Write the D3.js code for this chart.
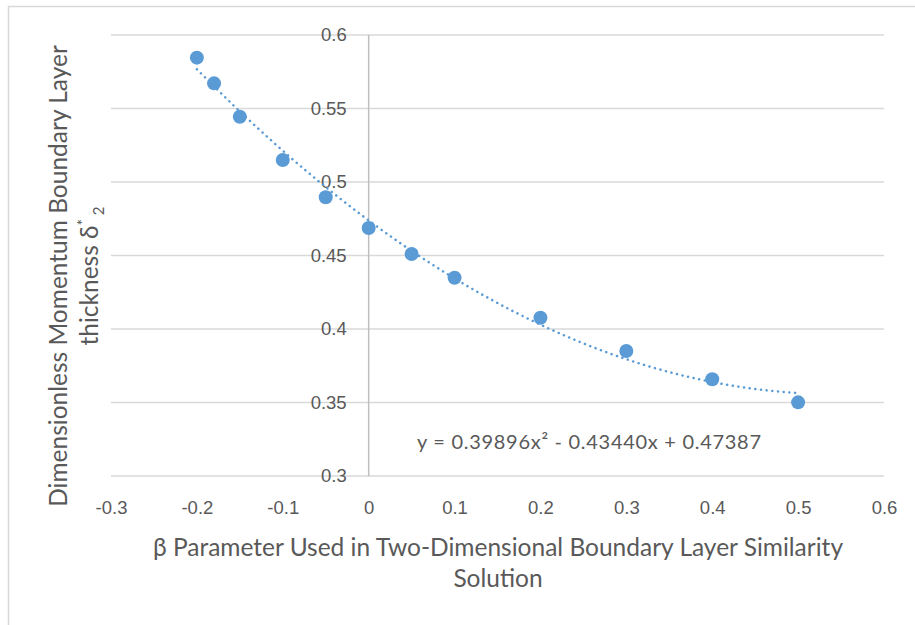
<!DOCTYPE html>
<html>
<head>
<meta charset="utf-8">
<script src="https://cdn.jsdelivr.net/npm/d3@7"></script>
<style>
    body { margin: 0; background: #fff; }
    svg { font-family: "Lato", "Open Sans", sans-serif; }
</style>
</head>
<body>
<div id="chart"></div>
<script>
// beta values and momentum thickness
const betaValues = [-0.2, -0.18, -0.15, -0.1, -0.05, 0, 0.05, 0.1, 0.2, 0.3, 0.4, 0.5];
const thicknessValues = [0.5846, 0.5671, 0.5444, 0.515, 0.4896, 0.4687, 0.451, 0.4349, 0.4077, 0.385, 0.3658, 0.3501];

const xTicks = [-0.3, -0.2, -0.1, 0, 0.1, 0.2, 0.3, 0.4, 0.5, 0.6];
const yTicks = [0.3, 0.35, 0.4, 0.45, 0.5, 0.55, 0.6];

// polynomial trendline shown on the chart (a2, a1, a0)
const trendCoefs = [0.39896, -0.43440, 0.47387];
const trendLabel = "y = 0.39896x² - 0.43440x + 0.47387";

const width = 915;
const height = 625;
const margin = { top: 35, right: 31, bottom: 149, left: 111 };

const svg = d3.select("#chart")
    .append("svg")
    .attr("width", width)
    .attr("height", height);

// chart frame
svg.append("rect")
    .attr("x", 8.5)
    .attr("y", 6.5)
    .attr("width", width + 20)
    .attr("height", height + 20)
    .attr("fill", "none")
    .attr("stroke", "#d9d9d9")
    .attr("stroke-width", 1.5);

const x = d3.scaleLinear()
    .domain([-0.3, 0.6])
    .range([margin.left, width - margin.right]);

const y = d3.scaleLinear()
    .domain([0.3, 0.6])
    .range([height - margin.bottom, margin.top]);

// plain hyphen for negatives, like the original
const fmt = d => String(+d.toFixed(2));

// horizontal gridlines
svg.append("g")
    .selectAll("line")
    .data(yTicks)
    .enter().append("line")
    .attr("x1", x(-0.3))
    .attr("x2", x(0.6))
    .attr("y1", d => y(d))
    .attr("y2", d => y(d))
    .attr("stroke", "#d9d9d9")
    .attr("stroke-width", 1.5);

// vertical axis line at x = 0
svg.append("line")
    .attr("x1", x(0))
    .attr("x2", x(0))
    .attr("y1", y(0.6))
    .attr("y2", y(0.3))
    .attr("stroke", "#bfbfbf")
    .attr("stroke-width", 1.5);

const yAxis = svg.append("g")
    .attr("transform", `translate(${x(0)},0)`)
    .call(d3.axisLeft(y).tickValues(yTicks).tickSize(0).tickPadding(22).tickFormat(fmt));
yAxis.select(".domain").remove();
yAxis.selectAll("text")
    .attr("fill", "#595959")
    .style("font-size", "18.5px");

const xAxis = svg.append("g")
    .attr("transform", `translate(0,${y(0.3)})`)
    .call(d3.axisBottom(x).tickValues(xTicks).tickSize(0).tickPadding(25).tickFormat(fmt));
xAxis.select(".domain").remove();
xAxis.selectAll("text")
    .attr("fill", "#595959")
    .style("font-size", "18.5px");

// trendline
const trendX = d3.range(0, 141).map(i => -0.2 + i * 0.005);
const trend = trendX.map(t => [t, trendCoefs[0] * t * t + trendCoefs[1] * t + trendCoefs[2]]);

svg.append("path")
    .datum(trend)
    .attr("fill", "none")
    .attr("stroke", "#5b9bd5")
    .attr("stroke-width", 2.5)
    .attr("stroke-linecap", "round")
    .attr("stroke-dasharray", "0.1 5.6")
    .attr("d", d3.line().x(d => x(d[0])).y(d => y(d[1])));

// data points
svg.append("g")
    .selectAll("circle")
    .data(betaValues.map((b, i) => ({ b, t: thicknessValues[i] })))
    .enter().append("circle")
    .attr("cx", d => x(d.b))
    .attr("cy", d => y(d.t))
    .attr("r", 7)
    .attr("fill", "#5b9bd5");

// trendline equation
svg.append("text")
    .attr("x", 417)
    .attr("y", 449)
    .attr("fill", "#595959")
    .attr("textLength", 344)
    .style("font-size", "20px")
    .text(trendLabel);

// axis titles
const xTitle = svg.append("text")
    .attr("text-anchor", "middle")
    .attr("fill", "#595959")
    .style("font-size", "24.5px");
xTitle.append("tspan")
    .attr("x", 498)
    .attr("y", 556)
    .text("β Parameter Used in Two-Dimensional Boundary Layer Similarity");
xTitle.append("tspan")
    .attr("x", 498)
    .attr("y", 587)
    .text("Solution");

const yTitle = svg.append("text")
    .attr("text-anchor", "middle")
    .attr("fill", "#595959")
    .attr("transform", "translate(0,276) rotate(-90)")
    .style("font-size", "24.5px");
yTitle.append("tspan")
    .attr("x", 0)
    .attr("y", 67)
    .text("Dimensionless Momentum Boundary Layer");
yTitle.append("tspan")
    .attr("x", 0)
    .attr("y", 98)
    .text("thickness δ");
yTitle.append("tspan")
    .attr("dy", -10)
    .style("font-size", "15px")
    .text("*");
yTitle.append("tspan")
    .attr("dy", 16)
    .style("font-size", "15px")
    .text(" 2");
</script>
</body>
</html>
